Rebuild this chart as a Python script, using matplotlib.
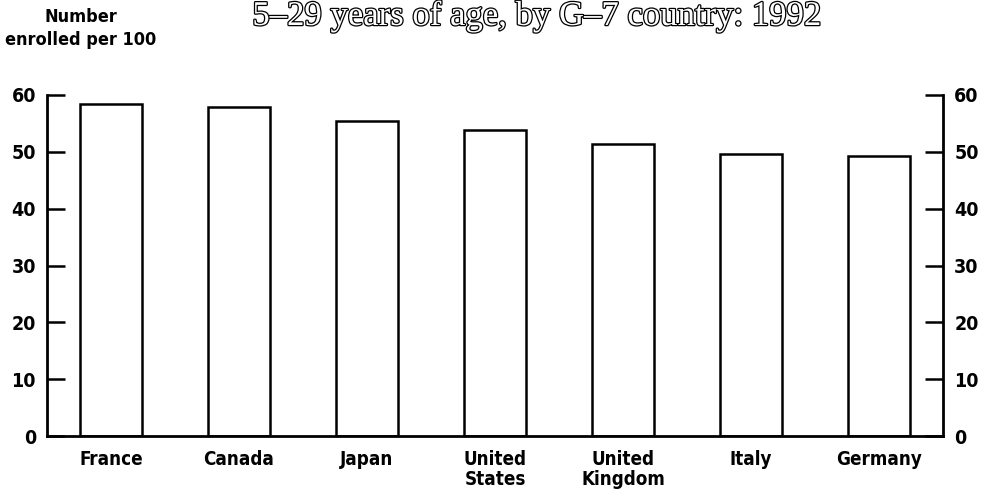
import matplotlib
matplotlib.use("Agg")
import matplotlib.pyplot as plt
import matplotlib.patheffects as pe

countries = ["France", "Canada", "Japan", "United\nStates", "United\nKingdom", "Italy", "Germany"]
enrolled = [58.4, 57.9, 55.5, 53.9, 51.4, 49.6, 49.3]
yticks = [0, 10, 20, 30, 40, 50, 60]

plt.rcParams['font.family'] = ['DejaVu Sans']
plt.rcParams['font.stretch'] = 'condensed'
plt.rcParams['font.weight'] = 'bold'

fig = plt.figure(figsize=(9.81, 5.01), dpi=100)
ax = fig.add_axes([0.0479, 0.1297, 0.9134, 0.6807])

x = list(range(len(countries)))
ax.bar(x, enrolled, width=0.49, color='white', edgecolor='black', linewidth=1.8)

ax.set_xlim(-0.5, 6.5)
ax.set_ylim(0, 60)
ax.set_yticks(yticks)
ax.set_xticks(x)
ax.set_xticklabels(countries, fontsize=13.5, linespacing=1.1)
ax.tick_params(axis='x', length=0, pad=10)
ax.tick_params(axis='y', direction='in', length=13, width=1.8, labelsize=14,
               left=True, right=True, labelleft=True, labelright=True, pad=8)

ax.spines['top'].set_visible(False)
for s in ['left', 'right', 'bottom']:
    ax.spines[s].set_linewidth(2)

fig.text(0.082, 1 - 8 / 501, "Number\nenrolled per 100", ha='center', va='top',
         fontsize=13, linespacing=1.35)

t = fig.text(0.548, 1 - 25 / 501, "5\u201329 years of age, by G\u20137 country: 1992",
             ha='center', va='baseline', fontsize=25, family='Liberation Serif',
             weight='normal', stretch='normal', color='white')
t.set_path_effects([pe.withStroke(linewidth=1.8, foreground='black')])

fig.savefig("out.png", dpi=100)
